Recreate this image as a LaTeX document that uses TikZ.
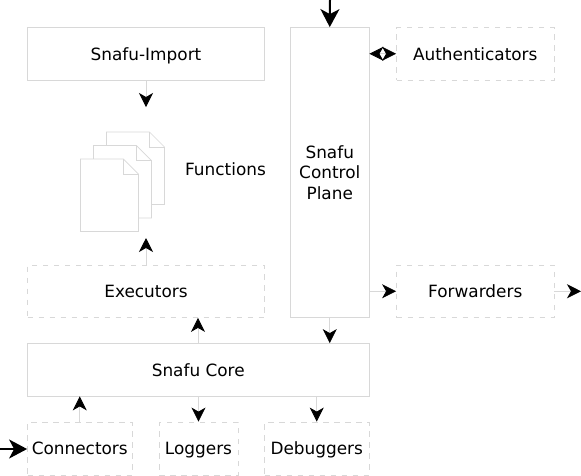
\documentclass[tikz,border=0pt]{standalone}
\usepackage{fontspec}
\setmainfont{DejaVu Sans}
\usetikzlibrary{arrows.meta}
\definecolor{edgegray}{HTML}{D8D8D8}
\tikzset{
  label text/.style={font=\fontsize{16.9}{20.6}\selectfont,text=black},
  box/.style={draw=edgegray,line width=0.8pt,rectangle,inner sep=0pt,align=center,label text},
  oneline/.style={text height=14pt,text depth=1.5pt},
  solidbox/.style={box},
  dashbox/.style={box,dash pattern=on 5.5pt off 5.5pt},
  tip/.tip={Stealth[length=14pt,width=14pt,inset=4pt,color=black,fill=black]},
  link/.style={draw=edgegray,line width=0.8pt,-{tip}},
  heavy/.style={draw=black,line width=2pt,-{Stealth[length=18pt,width=19pt,inset=5pt,color=black,fill=black]}},
  page/.style={draw=edgegray,line width=0.7pt,fill=white,line join=miter},
}
\begin{document}
\begin{tikzpicture}[x=1pt,y=-1pt]
\useasboundingbox (0,0) rectangle (581,475);
\node[solidbox,oneline,minimum width=237pt,minimum height=52.5pt] (import) at (146,53.75) {Snafu-Import};
\node[solidbox,minimum width=78.5pt,minimum height=290pt] (plane) at (329.75,172.5) {Snafu\\Control\\Plane};
\node[dashbox,oneline,minimum width=157.5pt,minimum height=52.5pt] (auth) at (475.25,53.75) {Authenticators};
\node[dashbox,oneline,minimum width=237pt,minimum height=52.5pt] (exec) at (146,291.25) {Executors};
\node[dashbox,oneline,minimum width=157.5pt,minimum height=52.5pt] (fwd) at (475.25,291.25) {Forwarders};
\node[solidbox,oneline,minimum width=341.5pt,minimum height=52.5pt] (core) at (198.25,369.75) {Snafu Core};
\node[dashbox,oneline,minimum width=104.5pt,minimum height=53pt] (conn) at (79.75,448.5) {Connectors};
\node[dashbox,oneline,minimum width=79pt,minimum height=53pt] (logg) at (198.5,448.5) {Loggers};
\node[dashbox,oneline,minimum width=104.5pt,minimum height=53pt] (debug) at (316.75,448.5) {Debuggers};
\node[label text,oneline,inner sep=0pt] (func) at (225.5,169) {Functions};
% document stack
\foreach \dx/\dy in {26/-27,13/-13.5,0/0}{
  \begin{scope}[shift={(\dx,\dy)}]
    \draw[page] (80.5,159) -- (123.5,159) -- (138.5,174) -- (138.5,231.5) -- (80.5,231.5) -- cycle;
    \draw[page,fill=none] (123.5,159) -- (123.5,174) -- (138.5,174);
  \end{scope}
}
\coordinate (stacktop) at (146,107);
\coordinate (stackbot) at (146,238);
\coordinate (topin) at (330,0);
\coordinate (leftin) at (0,449);
\coordinate (rightout) at (581,291.25);
% connectors
\draw[link] (import.south -| stacktop) -- (stacktop);
\draw[link] (exec.north -| stackbot) -- (stackbot);
\draw[link] (core.north -| 198,0) -- (exec.south -| 198,0);
\draw[link] (plane.south) -- (core.north -| plane.south);
\draw[link] (core.south -| logg.north) -- (logg.north);
\draw[link] (core.south -| debug.north) -- (debug.north);
\draw[link] (conn.north) -- (core.south -| conn.north);
\draw[link] (plane.east |- fwd.west) -- (fwd.west);
\draw[link] (fwd.east) -- (rightout);
\draw[draw=edgegray,line width=0.8pt,{tip}-{tip}] (plane.east |- auth.west) -- (auth.west);
\draw[heavy] (topin) -- (plane.north);
\draw[heavy] (leftin) -- (conn.west |- leftin);
\end{tikzpicture}
\end{document}
